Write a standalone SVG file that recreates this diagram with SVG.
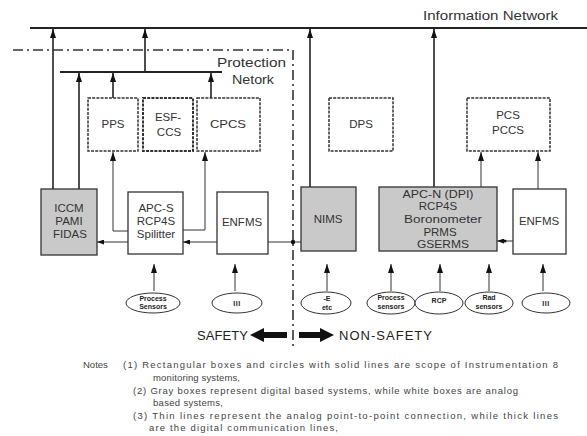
<svg xmlns="http://www.w3.org/2000/svg" width="587" height="436" viewBox="0 0 587 436">
<style>
text{font-family:"Liberation Sans",Arial,sans-serif;fill:#333}
.lbl{font-size:11.5px;text-anchor:middle}
.net{font-size:12px}
.sen{font-size:7px;font-weight:bold;text-anchor:middle;fill:#222}
.note{font-size:9.5px;fill:#444}
.big{font-size:13px;fill:#222}
.box{fill:#fff;stroke:#333;stroke-width:1.3}
.gray{fill:#c9c9c9;stroke:#333;stroke-width:1.3}
.dash{fill:#fff;stroke:#333;stroke-width:1.5;stroke-dasharray:3 1.2}
.ell{fill:#fff;stroke:#333;stroke-width:1}
.thick{stroke:#222;stroke-width:2;fill:none}
.mid{stroke:#222;stroke-width:1.6;fill:none}
.thin{stroke:#333;stroke-width:1;fill:none}
.dd{stroke:#333;stroke-width:1.6;fill:none;stroke-dasharray:10 4 2 4}
</style>
<defs>
<marker id="ah" viewBox="0 0 9 6" refX="9" refY="3" markerWidth="9" markerHeight="6" markerUnits="userSpaceOnUse" orient="auto"><path d="M0,0 L9,3 L0,6 z" fill="#111"/></marker>
<marker id="as" viewBox="0 0 7 5" refX="7" refY="2.5" markerWidth="7" markerHeight="5" markerUnits="userSpaceOnUse" orient="auto"><path d="M0,0 L7,2.5 L0,5 z" fill="#111"/></marker>
</defs>

<g id="networks">
<line class="thick" x1="30" y1="28" x2="587" y2="28"/>
<text class="net" x="423" y="20" textLength="135" lengthAdjust="spacingAndGlyphs">Information Network</text>
<line class="thick" x1="60" y1="72" x2="222" y2="72"/>
<text class="net" x="217" y="67" textLength="69" lengthAdjust="spacingAndGlyphs">Protection</text>
<text class="net" x="232" y="84" textLength="42" lengthAdjust="spacingAndGlyphs">Netork</text>
</g>

<g id="boundary">
<path class="dd" d="M13,50 H293 V346"/>
</g>

<g id="connectors">
<line class="mid" x1="53" y1="189" x2="53" y2="29" marker-end="url(#ah)"/>
<line class="mid" x1="79" y1="189" x2="79" y2="73" marker-end="url(#ah)"/>
<line class="mid" x1="145" y1="72" x2="145" y2="29" marker-end="url(#ah)"/>
<line class="mid" x1="113" y1="98" x2="113" y2="73" marker-end="url(#ah)"/>
<line class="mid" x1="211" y1="98" x2="211" y2="73" marker-end="url(#ah)"/>
<polyline class="thin" points="128,231 113,231 113,152" marker-end="url(#ah)"/>
<polyline class="thin" points="183,230 205,230 205,152" marker-end="url(#ah)"/>
<line class="thin" x1="217" y1="242" x2="183" y2="242" marker-end="url(#as)"/>
<line class="thin" x1="128" y1="242" x2="97" y2="242" marker-end="url(#as)"/>
<line class="thin" x1="268" y1="242" x2="301" y2="242"/>
<circle cx="293" cy="242" r="2.2" fill="#111"/>
<line class="mid" x1="310" y1="187" x2="310" y2="29" marker-end="url(#ah)"/>
<line class="mid" x1="434" y1="187" x2="434" y2="29" marker-end="url(#ah)"/>
<line class="thin" x1="481" y1="187" x2="481" y2="152" marker-end="url(#ah)"/>
<line class="thin" x1="538" y1="189" x2="538" y2="152" marker-end="url(#ah)"/>
<line class="thin" x1="513" y1="241" x2="497" y2="241" marker-end="url(#as)"/>
<circle cx="505" cy="241" r="1.5" fill="#111"/>
<line class="thin" x1="154" y1="291" x2="154" y2="264" marker-end="url(#ah)"/>
<line class="thin" x1="235" y1="291" x2="235" y2="264" marker-end="url(#ah)"/>
<line class="thin" x1="327" y1="291" x2="327" y2="264" marker-end="url(#ah)"/>
<line class="thin" x1="391" y1="291" x2="391" y2="264" marker-end="url(#ah)"/>
<line class="thin" x1="440" y1="291" x2="440" y2="264" marker-end="url(#ah)"/>
<line class="thin" x1="489" y1="291" x2="489" y2="264" marker-end="url(#ah)"/>
<line class="thin" x1="543" y1="291" x2="543" y2="264" marker-end="url(#ah)"/>
</g>

<g id="pps"><rect class="dash" x="88" y="98" width="50" height="53"/><text class="lbl" x="113" y="128">PPS</text></g>
<g id="esfccs"><rect class="dash" x="143" y="98" width="50" height="53" style="stroke-width:2"/><text class="lbl" x="168" y="121">ESF-</text><text class="lbl" x="169" y="136">CCS</text></g>
<g id="cpcs"><rect class="dash" x="197" y="98" width="63" height="53"/><text class="lbl" x="228" y="128" textLength="36" lengthAdjust="spacingAndGlyphs">CPCS</text></g>
<g id="dps"><rect class="dash" x="329" y="98" width="64" height="53"/><text class="lbl" x="361" y="128">DPS</text></g>
<g id="pcs"><rect class="dash" x="467" y="98" width="83" height="53"/><text class="lbl" x="508" y="119">PCS</text><text class="lbl" x="508" y="134">PCCS</text></g>

<g id="iccm"><rect class="gray" x="41" y="189" width="56" height="66"/><text class="lbl" x="69" y="212">ICCM</text><text class="lbl" x="69" y="225">PAMI</text><text class="lbl" x="70" y="238">FIDAS</text></g>
<g id="apcs"><rect class="box" x="128" y="192" width="55" height="62"/><text class="lbl" x="156" y="212">APC-S</text><text class="lbl" x="156" y="225">RCP4S</text><text class="lbl" x="156" y="238">Spilitter</text></g>
<g id="enfms-s"><rect class="box" x="217" y="192" width="51" height="62"/><text class="lbl" x="242" y="226">ENFMS</text></g>
<g id="nims"><rect class="gray" x="301" y="187" width="55" height="64"/><text class="lbl" x="328" y="223">NIMS</text></g>
<g id="apcn"><rect class="gray" x="379" y="187" width="118" height="64"/><text class="lbl" x="438" y="198" textLength="71" lengthAdjust="spacingAndGlyphs">APC-N (DPI)</text><text class="lbl" x="438" y="210">RCP4S</text><text class="lbl" x="443" y="223" textLength="78" lengthAdjust="spacingAndGlyphs">Boronometer</text><text class="lbl" x="440" y="236">PRMS</text><text class="lbl" x="443" y="248" textLength="52" lengthAdjust="spacingAndGlyphs">GSERMS</text></g>
<g id="enfms-n"><rect class="box" x="513" y="189" width="53" height="65"/><text class="lbl" x="539" y="225">ENFMS</text></g>

<g id="s-process-l"><ellipse class="ell" cx="153" cy="303" rx="27" ry="10"/><text class="sen" x="153" y="301">Process</text><text class="sen" x="153" y="309">Sensors</text></g>
<g id="s-iii-l"><ellipse class="ell" cx="237" cy="303" rx="25" ry="10"/><text class="sen" x="237" y="306" style="letter-spacing:0.5px">III</text></g>
<g id="s-e"><ellipse class="ell" cx="326" cy="303" rx="25" ry="11"/><text class="sen" x="327" y="301">-E</text><text class="sen" x="327" y="310">etc</text></g>
<g id="s-process-r"><ellipse class="ell" cx="391" cy="303" rx="24" ry="11"/><text class="sen" x="391" y="300">Process</text><text class="sen" x="391" y="309">sensors</text></g>
<g id="s-rcp"><ellipse class="ell" cx="439" cy="303" rx="24" ry="11"/><text class="sen" x="439" y="303">RCP</text></g>
<g id="s-rad"><ellipse class="ell" cx="489" cy="303" rx="24" ry="11"/><text class="sen" x="489" y="300">Rad</text><text class="sen" x="489" y="309">sensors</text></g>
<g id="s-iii-r"><ellipse class="ell" cx="546" cy="303" rx="24" ry="10"/><text class="sen" x="546" y="306" style="letter-spacing:0.5px">III</text></g>

<g id="legend">
<text class="big" x="197" y="340" textLength="51" lengthAdjust="spacing">SAFETY</text>
<polygon points="250,335 264,328 264,332 287,332 287,338 264,338 264,342" fill="#111"/>
<polygon points="334,335 320,328 320,332 299,332 299,338 320,338 320,342" fill="#111"/>
<text class="big" x="339" y="340" textLength="93" lengthAdjust="spacing">NON-SAFETY</text>
</g>

<g id="notes">
<text class="note" x="83" y="368">Notes</text>
<text class="note" x="123" y="368" textLength="435" lengthAdjust="spacing">(1) Rectangular boxes and circles with solid lines are scope of Instrumentation 8</text>
<text class="note" x="153" y="381" textLength="87" lengthAdjust="spacing">monitoring systems,</text>
<text class="note" x="133" y="394" textLength="385" lengthAdjust="spacing">(2) Gray boxes represent digital based systems, while white boxes are analog</text>
<text class="note" x="153" y="406" textLength="70" lengthAdjust="spacing">based systems,</text>
<text class="note" x="133" y="419" textLength="425" lengthAdjust="spacing">(3) Thin lines represent the analog point-to-point connection, while thick lines</text>
<text class="note" x="149" y="431" textLength="189" lengthAdjust="spacing">are the digital communication lines,</text>
</g>
</svg>
